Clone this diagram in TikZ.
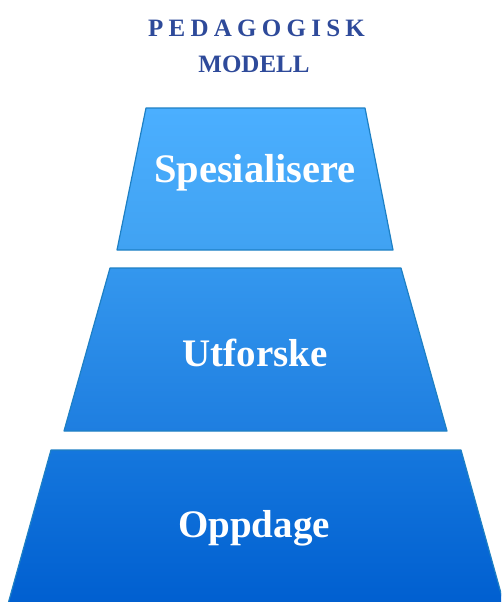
\documentclass[tikz,border=0pt]{standalone}
\usepackage{fontspec}
\setmainfont{Liberation Serif}
\newfontfamily\spacedfont[LetterSpace=21]{Liberation Serif}
\usepackage{tikz}
\usetikzlibrary{calc}

\definecolor{headblue}{RGB}{46,74,154}
\definecolor{edgeblue}{RGB}{30,128,196}
\definecolor{topA}{RGB}{75,175,255}
\definecolor{topB}{RGB}{64,162,242}
\definecolor{midA}{RGB}{52,151,238}
\definecolor{midB}{RGB}{30,126,224}
\definecolor{botA}{RGB}{21,119,221}
\definecolor{botB}{RGB}{0,95,208}

\begin{document}
\begin{tikzpicture}[x=1pt,y=-1pt]
\tikzstyle{headtext} = [anchor=base, inner sep=0pt, text=headblue, font=\bfseries\fontsize{25}{25}\selectfont]
\tikzstyle{tiertext} = [anchor=base, inner sep=0pt, text=white, font=\bfseries\fontsize{39}{39}\selectfont]
\tikzstyle{layer} = [draw=edgeblue, line width=1.2pt, line join=round]
\useasboundingbox (0,0) rectangle (501,602);
\clip (0,0) rectangle (501,602);
% title
\node[headtext] (head) at (256.5,37) {\spacedfont PEDAGOGISK};
\node[headtext] (model) at (254,72) {MODELL};
% corners of the three layers
\coordinate (A1) at (146,108);
\coordinate (A2) at (365,108);
\coordinate (A3) at (393,250);
\coordinate (A4) at (117,250);
\coordinate (B1) at (110,268);
\coordinate (B2) at (401,268);
\coordinate (B3) at (447,431);
\coordinate (B4) at (64,431);
\coordinate (C1) at (51,450);
\coordinate (C2) at (461,450);
\coordinate (C3) at (504,604);
\coordinate (C4) at (8,604);
\path[layer, top color=topA, bottom color=topB] (A1) -- (A2) -- (A3) -- (A4) -- cycle;
\path[layer, top color=midA, bottom color=midB] (B1) -- (B2) -- (B3) -- (B4) -- cycle;
\path[layer, top color=botA, bottom color=botB] (C1) -- (C2) -- (C3) -- (C4) -- cycle;
% texts
\node[tiertext, font=\bfseries\fontsize{40.5}{40.5}\selectfont] (spes) at (255,182) {Spesialisere};
\node[tiertext] (utf) at (255,366) {Utforske};
\node[tiertext] (opp) at (254,537) {Oppdage};
\end{tikzpicture}
\end{document}
